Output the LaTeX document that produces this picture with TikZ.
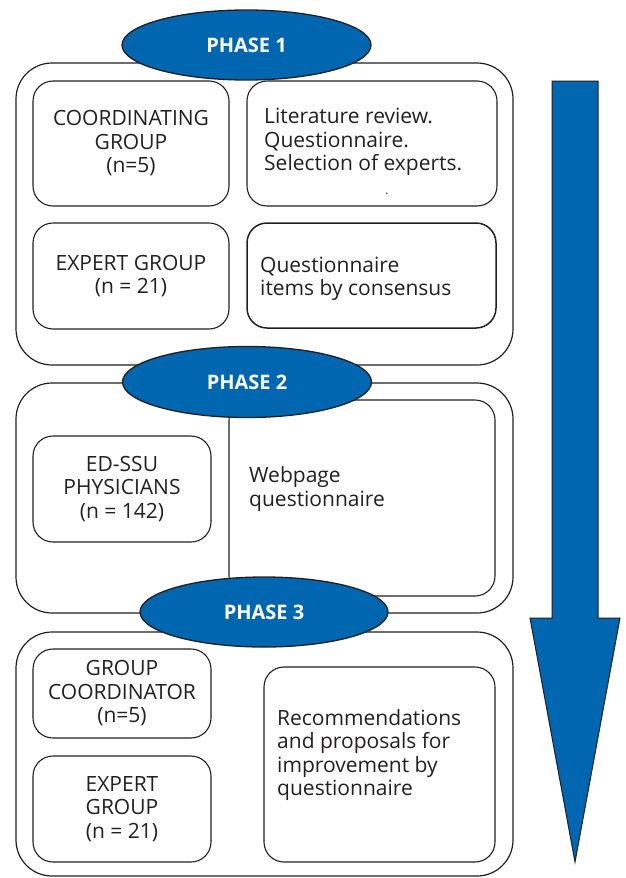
\documentclass[tikz,border=0pt]{standalone}
\usepackage{fontspec}
\setmainfont{Open Sans}
\usetikzlibrary{shapes.geometric}
\definecolor{phaseblue}{RGB}{0,102,176}
\definecolor{linegray}{RGB}{35,31,32}
\begin{document}
\begin{tikzpicture}[x=1pt,y=-1pt,
  outerbox/.style={draw=linegray, line width=1.2pt, rounded corners=36pt, inner sep=0},
  innerbox/.style={draw=linegray, line width=1.1pt, rounded corners=20pt, align=center, inner sep=0,
    font=\fontsize{21}{23.5}\selectfont, text=linegray},
  phase/.style={ellipse, draw=linegray, line width=1.3pt, fill=phaseblue, text=white, inner sep=0,
    font=\bfseries\fontsize{20}{22}\selectfont},
  txt/.style={font=\fontsize{21}{23.5}\selectfont, inner sep=0, text=linegray, align=left, anchor=west},
]
\useasboundingbox (0,0) rectangle (626,878);
% arrow
\draw[fill=phaseblue, draw=linegray, line width=1pt, line join=miter]
  (552,81) -- (598,81) -- (598,618) -- (620,618) -- (575,862) -- (530,618) -- (552,618) -- cycle;
% phase 1
\node[outerbox, minimum width=497, minimum height=302] (box1) at (264.5,214) {};
\node[innerbox, minimum width=196, minimum height=125] (coord) at (131,143.5) {COORDINATING\\GROUP\\(n=5)};
\node[innerbox, minimum width=250, minimum height=125] (lit) at (372,143.5) {};
\node[txt] (littxt) at (264,142) {Literature review.\\Questionnaire.\\Selection of experts.};
\node[inner sep=0, font=\fontsize{12}{12}\selectfont, text=linegray] (dot) at (387,194) {.};
\node[innerbox, minimum width=196, minimum height=106] (exp1) at (131,276) {EXPERT GROUP\\(n = 21)};
\node[innerbox, line width=1.5pt, minimum width=249, minimum height=105] (items) at (371.5,275.5) {};
\node[txt] (itemstxt) at (260,279) {Questionnaire\\items by consensus};
% phase 2
\node[outerbox, minimum width=497, minimum height=230] (box2) at (264.5,498) {};
\node[innerbox, minimum width=266, minimum height=196] (web) at (362,498) {};
\node[txt] (webtxt) at (249,489) {Webpage\\questionnaire};
\node[innerbox, minimum width=178, minimum height=106] (edssu) at (122,489) {ED-SSU\\PHYSICIANS\\(n = 142)};
% phase 3
\node[outerbox, minimum width=497, minimum height=244] (box3) at (264.5,754) {};
\node[innerbox, minimum width=178, minimum height=89] (gc) at (122,693.5) {GROUP\\COORDINATOR\\(n=5)};
\node[innerbox, minimum width=178, minimum height=106] (exp3) at (122,809) {EXPERT\\GROUP\\(n = 21)};
\node[innerbox, minimum width=231, minimum height=195] (rec) at (379.5,764.5) {};
\node[txt] (rectxt) at (277,755) {Recommendations\\and proposals for\\improvement by\\questionnaire};
% phase ellipses
\node[phase, minimum width=249, minimum height=70] (p1) at (246.5,45) {PHASE 1};
\node[phase, minimum width=249, minimum height=71] (p2) at (247,382) {PHASE 2};
\node[phase, minimum width=248, minimum height=70] (p3) at (264,612) {PHASE 3};
\end{tikzpicture}
\end{document}
